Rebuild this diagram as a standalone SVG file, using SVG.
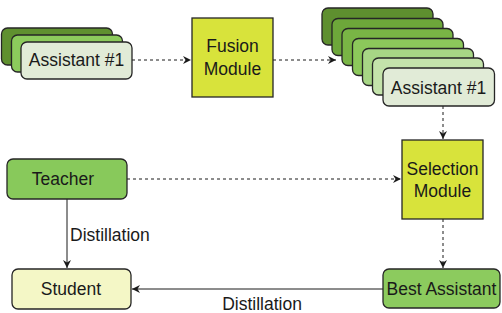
<svg xmlns="http://www.w3.org/2000/svg" width="502" height="313" viewBox="0 0 502 313">
<defs>
<marker id="ah" markerWidth="10" markerHeight="10" refX="8" refY="5" orient="auto" markerUnits="userSpaceOnUse">
<path d="M0,1 L8,5 L0,9 L2.5,5 Z" fill="#1a1a1a"/>
</marker>
<style>
.n{stroke:#262626;stroke-width:1.3}
.t{font-family:"Liberation Sans",Arial,sans-serif;font-size:17.5px;fill:#1a1a1a;text-anchor:middle}
.l{font-family:"Liberation Sans",Arial,sans-serif;font-size:17.5px;fill:#1a1a1a}
.c{fill:none;stroke:#1a1a1a;stroke-width:1}
.d{stroke-dasharray:3 3}
</style>
</defs>
<rect width="502" height="313" fill="#ffffff"/>
<g id="connectors">
<line class="c d" x1="132" y1="60" x2="191" y2="60" marker-end="url(#ah)"/>
<line class="c d" x1="273" y1="60" x2="336" y2="60" marker-end="url(#ah)"/>
<line class="c d" x1="443" y1="106" x2="443" y2="139" marker-end="url(#ah)"/>
<line class="c d" x1="127" y1="179" x2="401" y2="179" marker-end="url(#ah)"/>
<line class="c d" x1="443" y1="219" x2="443" y2="268" marker-end="url(#ah)"/>
<line class="c" x1="67" y1="199" x2="67" y2="268" marker-end="url(#ah)"/>
<line class="c" x1="383" y1="289" x2="132" y2="289" marker-end="url(#ah)"/>
<text class="l" x="70" y="240.5">Distillation</text>
<text class="l" x="262" y="310" text-anchor="middle">Distillation</text>
</g>
<g id="assistant-stack-left">
<rect class="n" x="1.5" y="28" width="111" height="37" rx="6" fill="#5f902f"/>
<rect class="n" x="11.5" y="35" width="111" height="37" rx="6" fill="#8ccb5c"/>
<rect class="n" x="21" y="42" width="111" height="37" rx="6" fill="#e1ebd7"/>
<text class="t" x="76.5" y="66">Assistant #1</text>
</g>
<g id="fusion-module">
<rect class="n" x="192" y="18" width="81" height="79" fill="#d8e33b"/>
<text class="t" x="232.5" y="52">Fusion</text>
<text class="t" x="232.5" y="74.5">Module</text>
</g>
<g id="assistant-stack-right">
<rect class="n" x="322" y="8" width="111" height="37" rx="6" fill="#5e8f2f"/>
<rect class="n" x="332" y="18.5" width="111" height="37" rx="6" fill="#6da73a"/>
<rect class="n" x="342" y="28.5" width="111" height="37" rx="6" fill="#79b545"/>
<rect class="n" x="352.5" y="38.5" width="111" height="37" rx="6" fill="#8cc85b"/>
<rect class="n" x="362.5" y="48.5" width="111" height="37" rx="6" fill="#a7d685"/>
<rect class="n" x="372.5" y="58" width="111" height="37" rx="6" fill="#c4e3ab"/>
<rect class="n" x="383" y="68" width="111.5" height="38" rx="6" fill="#e1ebd7"/>
<text class="t" x="438.5" y="93.5">Assistant #1</text>
</g>
<g id="teacher">
<rect class="n" x="7" y="159" width="120" height="40" rx="6" fill="#88c95b"/>
<text class="t" x="63" y="185">Teacher</text>
</g>
<g id="selection-module">
<rect class="n" x="402" y="140" width="81" height="79" fill="#d8e33b"/>
<text class="t" x="442.5" y="175">Selection</text>
<text class="t" x="442.5" y="197">Module</text>
</g>
<g id="student">
<rect class="n" x="12" y="269" width="119" height="40" rx="6" fill="#f4f7c6"/>
<text class="t" x="71" y="295">Student</text>
</g>
<g id="best-assistant">
<rect class="n" x="383" y="269" width="117" height="39" rx="6" fill="#8ccb5e"/>
<text class="t" x="441.5" y="295">Best Assistant</text>
</g>
</svg>
